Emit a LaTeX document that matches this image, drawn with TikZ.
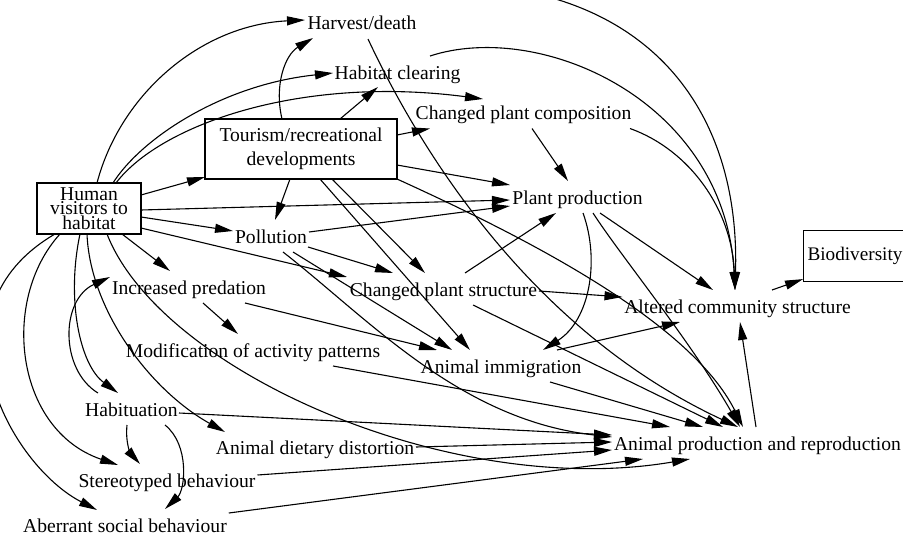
\documentclass[tikz,border=0pt]{standalone}
\usepackage{fontspec}
\setmainfont{Liberation Serif}
\usetikzlibrary{arrows.meta,calc}
\begin{document}
\begin{tikzpicture}[x=1pt,y=-1pt,
  lbl/.style={inner xsep=2pt,inner ysep=7pt,text height=16pt,text depth=2pt,font=\fontsize{19.6}{22}\selectfont},
  boxnode/.style={draw,line width=1.1pt,inner sep=0pt,align=center},
  arr/.style={line width=1.1pt,-{Triangle[length=18pt,width=9pt]}}]
\useasboundingbox (0,0) rectangle (903,538);
\clip (0,0) rectangle (903,538);
% nodes
\node[lbl] (HD) at (362,23) {Harvest/death};
\node[lbl] (HC) at (397.5,72) {Habitat clearing};
\node[lbl] (CPC) at (523.5,112.5) {Changed plant composition};
\node[boxnode,minimum width=192pt,minimum height=60pt,font=\fontsize{19.6}{24}\selectfont] (T) at (301,149) {Tourism/recreational\\developments};
\node[boxnode,minimum width=104pt,minimum height=51pt,font=\fontsize{19.6}{12}\selectfont] (H) at (89,208.5) {Human\\visitors to\\habitat};
\node[lbl] (PP) at (577.5,197) {Plant production};
\node[lbl] (Pol) at (271,236) {Pollution};
\node[lbl] (IP) at (189,287) {Increased predation};
\node[lbl] (CPS) at (443.5,289) {Changed plant structure};
\node[lbl] (ACS) at (737.5,306) {Altered community structure};
\node[boxnode,anchor=north west,minimum width=112pt,minimum height=51pt,text width=104pt,inner xsep=3pt,align=left,font=\fontsize{19.2}{22}\selectfont] (Bio) at (803,230) {Biodiversity};
\node[lbl] (Mod) at (253,350) {Modification of activity patterns};
\node[lbl] (AI) at (501,366) {Animal immigration};
\node[lbl] (Hab) at (131.5,409) {Habituation};
\node[lbl] (ADD) at (315,447) {Animal dietary distortion};
\node[lbl] (APR) at (757.5,443) {Animal production and reproduction};
\node[lbl] (St) at (167,480) {Stereotyped behaviour};
\node[lbl] (Ab) at (125,525) {Aberrant social behaviour};
\coordinate (hdout) at (480,-15);
% from Human visitors
\draw[arr] ($(H)+(8,-25.5)$) .. controls (120,95) and (200,25) .. ($(HD)+(-57,-3)$);
\draw[arr] ($(H)+(24,-25.5)$) .. controls (140,140) and (220,85) .. ($(HC)+(-64.5,1)$);
\draw[arr] ($(H)+(27,-25.5)$) .. controls (160,125) and (300,75) .. ($(CPC)+(-40.5,-13.5)$);
\draw[arr] ($(H)+(52,-13.5)$) -- ($(T)+(-96,28)$);
\draw[arr] ($(H)+(52,1.5)$) -- ($(PP)+(-67.5,3)$);
\draw[arr] ($(H)+(52,8.5)$) -- ($(Pol)+(-38,-5)$);
\draw[arr] ($(H)+(52,19.5)$) -- ($(CPS)+(-96.5,-12)$);
\draw[arr] ($(H)+(33,25.5)$) -- ($(IP)+(-19,-16)$);
\draw[arr] ($(H)+(-9,25.5)$) .. controls (66,300) and (80,365) .. ($(Hab)+(-13.5,-16)$);
\draw[arr] ($(H)+(-2,25.5)$) .. controls (90,310) and (150,390) .. ($(ADD)+(-90,-15)$);
\draw[arr] ($(H)+(18,25.5)$) .. controls (160,370) and (450,500) .. ($(APR)+(-67.5,16)$);
\draw[arr] ($(H)+(-29,25.5)$) .. controls (0,300) and (15,430) .. ($(St)+(-49,-15)$);
\draw[arr] ($(H)+(-34,25.5)$) .. controls (-75,310) and (10,465) .. ($(Ab)+(-28,-15)$);
% from Tourism
\draw[arr] ($(T)+(-19,-30)$) .. controls (274,85) and (285,55) .. ($(HD)+(-49,15)$);
\draw[arr] ($(T)+(39,-30)$) -- ($(HC)+(-19.5,15)$);
\draw[arr] ($(T)+(96,-14)$) -- ($(CPC)+(-93.5,16)$);
\draw[arr] ($(T)+(96,16)$) -- ($(PP)+(-67.5,-12)$);
\draw[arr] ($(T)+(-11,30)$) -- ($(Pol)+(4,-16)$);
\draw[arr] ($(T)+(31,30)$) -- ($(CPS)+(-18.5,-16)$);
\draw[arr] ($(T)+(19,30)$) -- ($(AI)+(-31,-16)$);
\draw[arr] ($(T)+(96,30)$) .. controls (520,235) and (690,320) .. ($(APR)+(-14.5,-16)$);
% harvest, clearing, composition
\draw[arr] (hdout) .. controls (660,0) and (740,120) .. ($(ACS)+(-2.5,-16)$);
\draw[arr] ($(HD)+(6,16)$) .. controls (420,150) and (530,330) .. ($(APR)+(-19.5,-16)$);
\draw[arr] ($(HC)+(32.5,-16)$) .. controls (540,20) and (725,100) .. ($(ACS)+(-2.5,-16)$);
\draw[arr] ($(CPC)+(106.5,16)$) .. controls (690,150) and (732,210) .. ($(ACS)+(-2.5,-16)$);
\draw[arr] ($(CPC)+(8.5,16)$) -- ($(PP)+(-9.5,-16)$);
% pollution
\draw[arr] ($(Pol)+(38,-4)$) -- ($(PP)+(-67.5,9)$);
\draw[arr] ($(Pol)+(37,11)$) -- ($(CPS)+(-50.5,-16)$);
\draw[arr] ($(Pol)+(22,16)$) -- ($(AI)+(-49,-16)$);
\draw[arr] ($(Pol)+(12,16)$) .. controls (370,320) and (460,420) .. ($(APR)+(-145.5,-6)$);
% predation, modification
\draw[arr] ($(IP)+(14,16)$) -- ($(Mod)+(-15,-16)$);
\draw[arr] ($(IP)+(56,16)$) -- ($(AI)+(-64,-16)$);
\draw[arr] ($(Mod)+(80,16)$) -- ($(APR)+(-87.5,-16)$);
% plant structure
\draw[arr] ($(CPS)+(21.5,-16)$) -- ($(PP)+(-21.5,16)$);
\draw[arr] ($(CPS)+(95.5,2)$) -- ($(ACS)+(-115,-9)$);
\draw[arr] ($(CPS)+(29.5,16)$) -- ($(APR)+(-34.5,-16)$);
% plant production
\draw[arr] ($(PP)+(22.5,16)$) -- ($(ACS)+(-24.5,-16)$);
\draw[arr] ($(PP)+(15.5,16)$) .. controls (620,255) and (690,340) .. ($(APR)+(-17.5,-16)$);
\draw[arr] ($(PP)+(5.5,16)$) .. controls (600,260) and (590,320) .. ($(AI)+(42,-16)$);
% immigration, production, community
\draw[arr] ($(AI)+(56,-16)$) -- ($(ACS)+(-57.5,16)$);
\draw[arr] ($(AI)+(49,16)$) -- ($(APR)+(-54.5,-16)$);
\draw[arr] ($(APR)+(-1.5,-16)$) -- ($(ACS)+(2.5,16)$);
\draw[arr] ($(ACS)+(34.5,-16)$) -- ($(Bio.south west)+(0,-3)$);
% habituation
\draw[arr] ($(Hab)+(-33.5,-16)$) .. controls (60,370) and (60,300) .. ($(IP)+(-79,-10)$);
\draw[arr] ($(Hab)+(-4.5,16)$) .. controls (125,445) and (132,455) .. ($(St)+(-27,-16)$);
\draw[arr] ($(Hab)+(33.5,16)$) .. controls (190,445) and (185,490) .. ($(Ab)+(40,-16)$);
\draw[arr] ($(Hab)+(47.5,4)$) -- ($(APR)+(-145.5,-8)$);
% behaviours, diet
\draw[arr] ($(ADD)+(101,0)$) -- ($(APR)+(-145.5,-1)$);
\draw[arr] ($(St)+(90.5,-5)$) -- ($(APR)+(-145.5,7)$);
\draw[arr] ($(Ab)+(103.8,-12)$) -- ($(APR)+(-114.5,16)$);
\end{tikzpicture}
\end{document}
